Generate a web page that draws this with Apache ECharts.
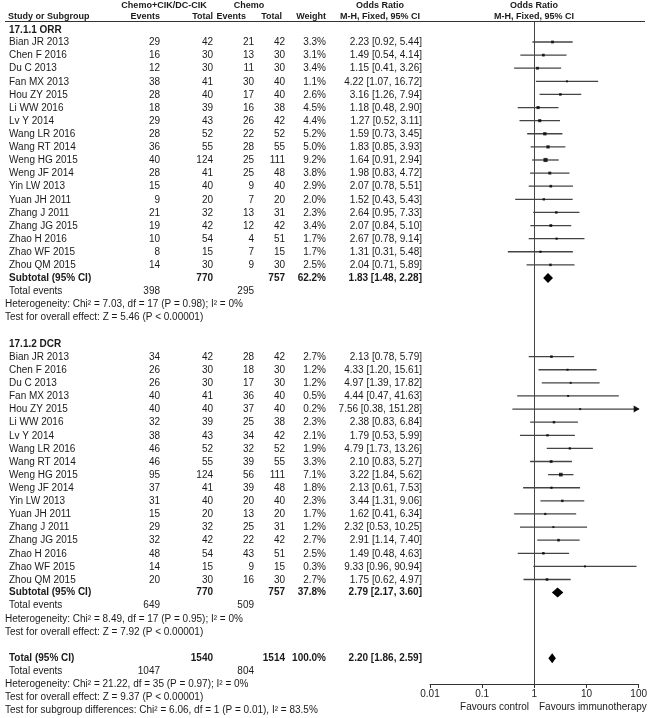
<!DOCTYPE html>
<html><head><meta charset="utf-8">
<script src="https://cdn.jsdelivr.net/npm/echarts@6/dist/echarts.min.js"></script>
<style>html,body{margin:0;padding:0;background:#fff}#c{width:650px;height:718px}</style>
</head><body><div id="c"></div>
<script>
const studies = ["Bian JR 2013","Chen F 2016","Du C 2013","Fan MX 2013","Hou ZY 2015","Li WW 2016","Lv Y 2014","Wang LR 2016","Wang RT 2014","Weng HG 2015","Weng JF 2014","Yin LW 2013","Yuan JH 2011","Zhang J 2011","Zhang JG 2015","Zhao H 2016","Zhao WF 2015","Zhou QM 2015"];
// 17.1.1 ORR
const orrExpEvents = [29,16,12,38,28,18,29,28,36,40,28,15,9,21,19,10,8,14];
const orrExpTotal  = [42,30,30,41,40,39,43,52,55,124,41,40,20,32,42,54,15,30];
const orrCtlEvents = [21,13,11,30,17,16,26,22,28,25,25,9,7,13,12,4,7,9];
const orrCtlTotal  = [42,30,30,40,40,38,42,52,55,111,48,40,20,31,42,51,15,30];
const orrWeight    = [3.3,3.1,3.4,1.1,2.6,4.5,4.4,5.2,5.0,9.2,3.8,2.9,2.0,2.3,3.4,1.7,1.7,2.5];
const orrOR        = [2.23,1.49,1.15,4.22,3.16,1.18,1.27,1.59,1.83,1.64,1.98,2.07,1.52,2.64,2.07,2.67,1.31,2.04];
const orrLo        = [0.92,0.54,0.41,1.07,1.26,0.48,0.52,0.73,0.85,0.91,0.83,0.78,0.43,0.95,0.84,0.78,0.31,0.71];
const orrHi        = [5.44,4.14,3.26,16.72,7.94,2.90,3.11,3.45,3.93,2.94,4.72,5.51,5.43,7.33,5.10,9.14,5.48,5.89];
// 17.1.2 DCR
const dcrExpEvents = [34,26,26,40,40,32,38,46,46,95,37,31,15,29,32,48,14,20];
const dcrExpTotal  = [42,30,30,41,40,39,43,52,55,124,41,40,20,32,42,54,15,30];
const dcrCtlEvents = [28,18,17,36,37,25,34,32,39,56,39,20,13,25,22,43,9,16];
const dcrCtlTotal  = [42,30,30,40,40,38,42,52,55,111,48,40,20,31,42,51,15,30];
const dcrWeight    = [2.7,1.2,1.2,0.5,0.2,2.3,2.1,1.9,3.3,7.1,1.8,2.3,1.7,1.2,2.7,2.5,0.3,2.7];
const dcrOR        = [2.13,4.33,4.97,4.44,7.56,2.38,1.79,4.79,2.10,3.22,2.13,3.44,1.62,2.32,2.91,1.49,9.33,1.75];
const dcrLo        = [0.78,1.20,1.39,0.47,0.38,0.83,0.53,1.73,0.83,1.84,0.61,1.31,0.41,0.53,1.14,0.48,0.96,0.62];
const dcrHi        = [5.79,15.61,17.82,41.63,151.28,6.84,5.99,13.26,5.27,5.62,7.53,9.06,6.34,10.25,7.40,4.63,90.94,4.97];
// summaries: [expTotal, ctlTotal, weight, OR, lo, hi, expEvents, ctlEvents]
const orrSub   = [770,757,62.2,1.83,1.48,2.28,398,295];
const dcrSub   = [770,757,37.8,2.79,2.17,3.60,649,509];
const overall  = [1540,1514,100.0,2.20,1.86,2.59,1047,804];
const orrHet   = ["Heterogeneity: Chi\u00b2 = 7.03, df = 17 (P = 0.98); I\u00b2 = 0%","Test for overall effect: Z = 5.46 (P < 0.00001)"];
const dcrHet   = ["Heterogeneity: Chi\u00b2 = 8.49, df = 17 (P = 0.95); I\u00b2 = 0%","Test for overall effect: Z = 7.92 (P < 0.00001)"];
const totHet   = ["Heterogeneity: Chi\u00b2 = 21.22, df = 35 (P = 0.97); I\u00b2 = 0%","Test for overall effect: Z = 9.37 (P < 0.00001)","Test for subgroup differences: Chi\u00b2 = 6.06, df = 1 (P = 0.01), I\u00b2 = 83.5%"];
const xTickLabels = ["0.01","0.1","1","10","100"];
const groupNames = ["17.1.1 ORR","17.1.2 DCR"];

// layout (row index positions)
const ROW_H = 13.11, ROW0 = 42, TOP = 22, BOTTOM = 684;
const orrStart = 0, dcrStart = 24, totalRow = 47;

const ciData = [], sqData = [], diaData = [];
function addGroup(start, OR, lo, hi, w, sub){
  for (let i=0;i<OR.length;i++){
    ciData.push([lo[i], hi[i], start+i]);
    sqData.push({value:[OR[i], start+i], symbolSize: Math.max(2, 1.1*Math.sqrt(w[i])+0.8)});
  }
  diaData.push([sub[4], sub[3], sub[5], start+OR.length]);
}
addGroup(orrStart, orrOR, orrLo, orrHi, orrWeight, orrSub);
addGroup(dcrStart, dcrOR, dcrLo, dcrHi, dcrWeight, dcrSub);
diaData.push([overall[4], overall[3], overall[5], totalRow]);

const chart = echarts.init(document.getElementById('c'), null, {renderer:'canvas'});
const FONT = '"Liberation Sans", Arial, sans-serif';
const XMAX = 100;
chart.setOption({
  animation:false,
  grid:{left:430, width:210, top:TOP, height:BOTTOM-TOP},
  xAxis:{type:'log', logBase:10, min:0.01, max:100, position:'bottom',
    axisLine:{show:true, onZero:false, lineStyle:{color:'#333', width:1}},
    axisTick:{show:true, length:4, lineStyle:{color:'#333'}},
    axisLabel:{fontSize:10, fontFamily:FONT, color:'#222', margin:5,
      formatter:v=>xTickLabels[Math.round(Math.log10(v))+2]},
    splitLine:{show:false}, minorTick:{show:false}},
  yAxis:{type:'value', inverse:true, min:(TOP-ROW0)/ROW_H, max:(BOTTOM-ROW0)/ROW_H, show:false},
  series:[
    {type:'custom', data:ciData, clip:false, z:2,
      renderItem:(params, api)=>{
        const lo=api.value(0), hi=api.value(1), r=api.value(2);
        const p1=api.coord([lo,r]), p2=api.coord([Math.min(hi,XMAX),r]);
        const children=[{type:'line', shape:{x1:p1[0],y1:p1[1],x2:p2[0],y2:p2[1]}, style:{stroke:'#444', lineWidth:1.3}}];
        if (hi>XMAX){
          children.push({type:'polygon', shape:{points:[[p2[0]+1,p2[1]],[p2[0]-5,p2[1]-3.5],[p2[0]-5,p2[1]+3.5]]}, style:{fill:'#111'}});
        }
        return {type:'group', children};
      },
      markLine:{silent:true, symbol:'none', label:{show:false}, lineStyle:{color:'#444', width:1, type:'solid'}, data:[{xAxis:1}]}
    },
    {type:'scatter', data:sqData, symbol:'rect', itemStyle:{color:'#000'}, z:3},
    {type:'custom', data:diaData, clip:false, z:4,
      renderItem:(params, api)=>{
        const lo=api.value(0), est=api.value(1), hi=api.value(2), r=api.value(3);
        const a=api.coord([lo,r]), m=api.coord([est,r]), b=api.coord([hi,r]);
        const h=5;
        return {type:'polygon', shape:{points:[[a[0],a[1]],[m[0],m[1]-h],[b[0],b[1]],[m[0],m[1]+h]]}, style:{fill:'#000'}};
      }
    }
  ]
});

// text table
const Y = r => chart.convertToPixel({yAxisIndex:0}, r);
const els = [];
function txt(s, x, y, align, bold, size){
  els.push({type:'text', x:x, y:y, silent:true, style:{text:String(s), fontSize:size||10, fontWeight:bold?'bold':'normal', fontFamily:FONT,
    fill:'#1a1a1a', align:align||'left', verticalAlign:'middle', textAlign:align||'left', textVerticalAlign:'middle'}});
}
const COL = {name:9, ee:160, et:213, ce:254, ct:285, w:326, or:422};
const fmtOR = (o,l,h)=>o.toFixed(2)+' ['+l.toFixed(2)+', '+h.toFixed(2)+']';
// headers
txt('Chemo+CIK/DC-CIK', 164, 6, 'center', true, 9);
txt('Chemo', 249, 6, 'center', true, 9);
txt('Odds Ratio', 380, 6, 'center', true, 9);
txt('Odds Ratio', 534, 6, 'center', true, 9);
txt('Study or Subgroup', 8, 16.5, 'left', true, 9);
txt('Events', COL.ee, 16.5, 'right', true, 9);
txt('Total', COL.et, 16.5, 'right', true, 9);
txt('Events', 246, 16.5, 'right', true, 9);
txt('Total', 282, 16.5, 'right', true, 9);
txt('Weight', COL.w, 16.5, 'right', true, 9);
txt('M-H, Fixed, 95% CI', 380, 16.5, 'center', true, 9);
txt('M-H, Fixed, 95% CI', 534, 16.5, 'center', true, 9);
els.push({type:'line', silent:true, shape:{x1:5,y1:21.5,x2:645,y2:21.5}, style:{stroke:'#333', lineWidth:1}});

function groupText(start, gname, ee, et, ce, ct, w, OR, lo, hi, sub, het){
  txt(gname, COL.name, Y(start-1)+1, 'left', true);
  for (let i=0;i<studies.length;i++){
    const y=Y(start+i)+0.5;
    txt(studies[i], COL.name, y);
    txt(ee[i], COL.ee, y, 'right'); txt(et[i], COL.et, y, 'right');
    txt(ce[i], COL.ce, y, 'right'); txt(ct[i], COL.ct, y, 'right');
    txt(w[i].toFixed(1)+'%', COL.w, y, 'right');
    txt(fmtOR(OR[i],lo[i],hi[i]), COL.or, y, 'right');
  }
  const s=start+studies.length, ys=Y(s);
  txt('Subtotal (95% CI)', COL.name, ys, 'left', true);
  txt(sub[0], COL.et, ys, 'right', true); txt(sub[1], COL.ct, ys, 'right', true);
  txt(sub[2].toFixed(1)+'%', COL.w, ys, 'right', true);
  txt(fmtOR(sub[3],sub[4],sub[5]), COL.or, ys, 'right', true);
  txt('Total events', COL.name, Y(s+1)); txt(sub[6], COL.ee, Y(s+1), 'right'); txt(sub[7], COL.ce, Y(s+1), 'right');
  txt(het[0], 5, Y(s+2)); txt(het[1], 5, Y(s+3));
}
groupText(orrStart, groupNames[0], orrExpEvents, orrExpTotal, orrCtlEvents, orrCtlTotal, orrWeight, orrOR, orrLo, orrHi, orrSub, orrHet);
groupText(dcrStart, groupNames[1], dcrExpEvents, dcrExpTotal, dcrCtlEvents, dcrCtlTotal, dcrWeight, dcrOR, dcrLo, dcrHi, dcrSub, dcrHet);
const yt=Y(totalRow);
txt('Total (95% CI)', COL.name, yt, 'left', true);
txt(overall[0], COL.et, yt, 'right', true); txt(overall[1], COL.ct, yt, 'right', true);
txt(overall[2].toFixed(1)+'%', COL.w, yt, 'right', true);
txt(fmtOR(overall[3],overall[4],overall[5]), COL.or, yt, 'right', true);
txt('Total events', COL.name, Y(totalRow+1)); txt(overall[6], COL.ee, Y(totalRow+1), 'right'); txt(overall[7], COL.ce, Y(totalRow+1), 'right');
txt(totHet[0], 5, Y(totalRow+2)); txt(totHet[1], 5, Y(totalRow+3)); txt(totHet[2], 5, Y(totalRow+4));
txt('Favours control', 529, 707, 'right');
txt('Favours immunotherapy', 539, 707, 'left');
chart.setOption({graphic:{elements:els}});
</script></body></html>
